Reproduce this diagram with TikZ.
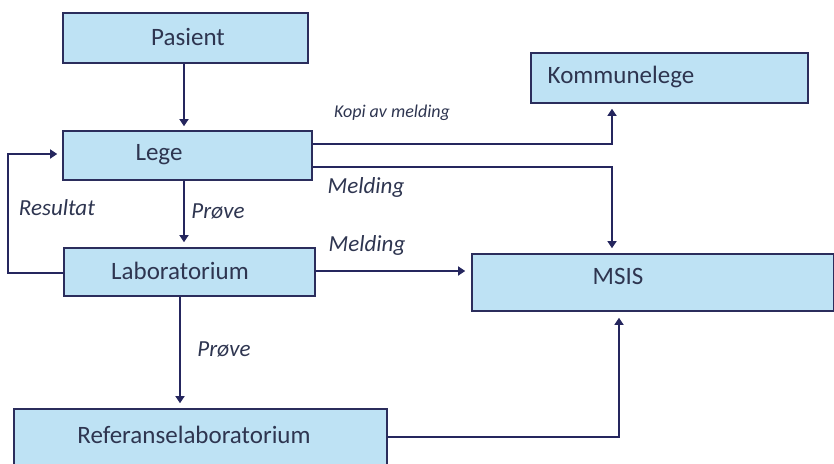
\documentclass[tikz,border=0pt]{standalone}
\usepackage{fontspec}
\setmainfont{Carlito}
\usetikzlibrary{arrows.meta}
\definecolor{boxfill}{HTML}{BEE2F4}
\definecolor{boxline}{HTML}{2B2D5C}
\definecolor{txt}{HTML}{2E3550}
\definecolor{conn}{HTML}{25265E}
\begin{document}
\begin{tikzpicture}[x=1pt,y=-1pt,
  box/.style={draw=boxline,fill=boxfill,line width=1.6pt,rectangle,inner sep=0pt},
  boxtext/.style={text=txt,font=\fontsize{25}{28}\selectfont,inner sep=0pt},
  lab/.style={text=txt,font=\fontsize{23}{26}\selectfont\itshape,inner sep=0pt},
  conn/.style={draw=conn,line width=1.5pt,-{Triangle[width=9pt,length=7pt]}},
  plain/.style={draw=conn,line width=1.5pt}]
\useasboundingbox (0,0) rectangle (834,463);
% boxes
\node[box,minimum width=245pt,minimum height=50pt] (pas) at (185.5,38) {};
\node[box,minimum width=249pt,minimum height=49pt] (lege) at (187.5,155.5) {};
\node[box,minimum width=251pt,minimum height=48pt] (lab) at (189.5,272) {};
\node[box,minimum width=373pt,minimum height=64pt] (ref) at (200.5,441) {};
\node[box,minimum width=277pt,minimum height=50pt] (kom) at (669.5,78) {};
\node[box,minimum width=362pt,minimum height=57pt] (msis) at (653,282.5) {};
% box texts
\node[boxtext] (tpas) at (188,37) {Pasient};
\node[boxtext] (tlege) at (159,155) {Lege};
\node[boxtext] (tlab) at (180,271) {Laboratorium};
\node[boxtext] (tref) at (194,435) {Referanselaboratorium};
\node[boxtext] (tkom) at (621,77) {Kommunelege};
\node[boxtext] (tmsis) at (618,276) {MSIS};
% connector helper points
\coordinate (c1) at (612,144);
\coordinate (c2) at (612,167);
\coordinate (c3) at (8,273);
\coordinate (c4) at (8,154);
\coordinate (c5) at (619,437);
% connectors
\draw[conn,shorten >=4pt] (pas.south -| 184,0) -- (lege.north -| 184,0);
\draw[conn,shorten >=5pt] (lege.south -| 184,0) -- (lab.north -| 184,0);
\draw[conn,shorten >=5pt] (lab.south -| 180,0) -- (ref.north -| 180,0);
\draw[conn,shorten >=6pt] (lab.east |- 0,271) -- (msis.west |- 0,271);
\draw[conn,shorten >=5pt] (lege.east |- c1) -- (c1) -- (kom.south -| c1);
\draw[conn,shorten >=5pt] (lege.east |- c2) -- (c2) -- (msis.north -| c2);
\draw[conn,shorten >=5pt] (lab.west |- c3) -- (c3) -- (c4) -- (lege.west |- c4);
\draw[conn,shorten >=6pt] (ref.east |- c5) -- (c5) -- (msis.south -| c5);
% labels
\node[text=txt,font=\fontsize{18}{20}\selectfont\itshape,inner sep=0pt] (lkopi) at (392,113) {Kopi av melding};
\node[lab] (lmeld1) at (366,187) {Melding};
\node[lab] (lmeld2) at (367,245) {Melding};
\node[lab] (lres) at (57,208) {Resultat};
\node[lab] (lprove1) at (218,211) {Prøve};
\node[lab] (lprove2) at (224,349) {Prøve};
\end{tikzpicture}
\end{document}
